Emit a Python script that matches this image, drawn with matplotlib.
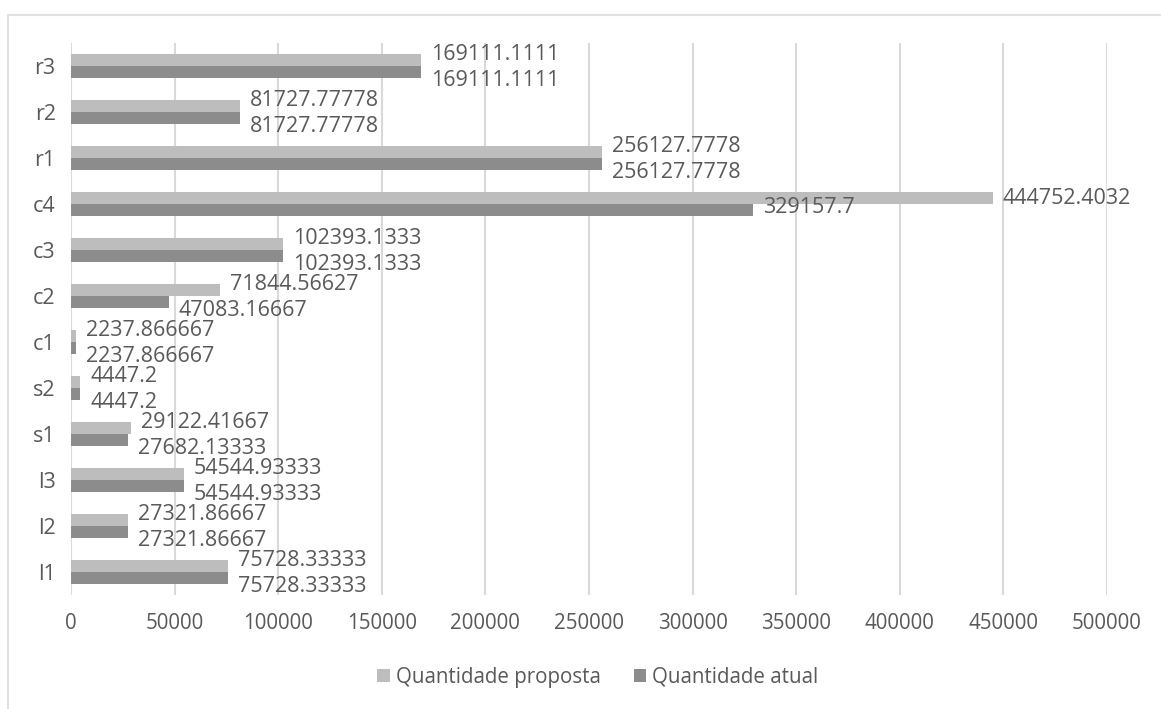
import matplotlib
matplotlib.use("Agg")
import matplotlib.pyplot as plt
from matplotlib.patches import Rectangle, Patch

categories = ["l1", "l2", "l3", "s1", "s2", "c1", "c2", "c3", "c4", "r1", "r2", "r3"]
proposta = [75728.33333, 27321.86667, 54544.93333, 29122.41667, 4447.2, 2237.866667,
            71844.56627, 102393.1333, 444752.4032, 256127.7778, 81727.77778, 169111.1111]
atual = [75728.33333, 27321.86667, 54544.93333, 27682.13333, 4447.2, 2237.866667,
         47083.16667, 102393.1333, 329157.7, 256127.7778, 81727.77778, 169111.1111]
proposta_labels = ["75728.33333", "27321.86667", "54544.93333", "29122.41667", "4447.2",
                   "2237.866667", "71844.56627", "102393.1333", "444752.4032",
                   "256127.7778", "81727.77778", "169111.1111"]
atual_labels = ["75728.33333", "27321.86667", "54544.93333", "27682.13333", "4447.2",
                "2237.866667", "47083.16667", "102393.1333", "329157.7",
                "256127.7778", "81727.77778", "169111.1111"]
xticks = [0, 50000, 100000, 150000, 200000, 250000, 300000, 350000, 400000, 450000, 500000]

W, H = 1161, 709
fig = plt.figure(figsize=(W / 100, H / 100), dpi=100)
fig.patch.set_facecolor("white")

plt.rcParams["font.family"] = ["Open Sans", "DejaVu Sans"]
text_color = "#595959"
light = "#BDBDBD"
dark = "#8C8C8C"
grid = "#D9D9D9"

# chart frame
fig.patches.append(Rectangle((8 / W, -0.05), 1.2, 1 - 15 / H + 0.05,
                             transform=fig.transFigure, fill=False,
                             edgecolor="#E0E0E0", linewidth=1.5))

left, right, top, bottom = 71, 1107, 43, 595
ax = fig.add_axes([left / W, 1 - bottom / H, (right - left) / W, (bottom - top) / H])

y = list(range(len(categories)))
h = 0.26
ax.barh([v + h / 2 for v in y], proposta, height=h, color=light, label="Quantidade proposta", zorder=2)
ax.barh([v - h / 2 for v in y], atual, height=h, color=dark, label="Quantidade atual", zorder=2)

ax.set_xlim(0, 500000)
ax.set_ylim(-0.5, len(categories) - 0.5)
ax.set_xticks(xticks)
ax.set_xticklabels([str(t) for t in xticks])
ax.set_yticks(y)
ax.set_yticklabels(categories)
ax.tick_params(axis="both", length=0, labelsize=14.8, colors=text_color)
ax.tick_params(axis="x", pad=13)
ax.tick_params(axis="y", pad=11, labelsize=15.5)
ax.grid(axis="x", color=grid, linewidth=1.5, zorder=0)
for s in ax.spines.values():
    s.set_visible(False)

for i in y:
    up = 0 if categories[i] == "c4" else 6
    dn = 2 if categories[i] == "c4" else -9
    ax.annotate(proposta_labels[i], (proposta[i], i + h / 2), xytext=(10, up),
                textcoords="offset pixels", va="center", ha="left",
                fontsize=15.5, color=text_color, zorder=3)
    ax.annotate(atual_labels[i], (atual[i], i - h / 2), xytext=(10, dn),
                textcoords="offset pixels", va="center", ha="left",
                fontsize=15.5, color=text_color, zorder=3)

handles = [Patch(facecolor=light), Patch(facecolor=dark)]
fig.legend(handles, ["Quantidade proposta", "Quantidade atual"], loc="center",
           bbox_to_anchor=(598 / W, 1 - 677 / H), ncol=2, frameon=False,
           fontsize=14.8, labelcolor=text_color, handlelength=0.6, handleheight=0.6,
           handletextpad=0.3, columnspacing=1.6)

fig.savefig("out.png", dpi=100)
